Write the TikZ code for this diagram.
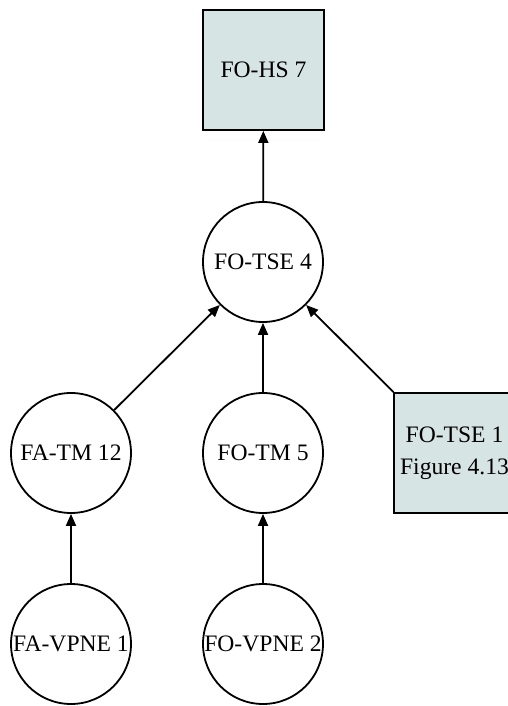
\documentclass[tikz,border=0pt]{standalone}
\usepackage{fontspec}
\setmainfont{Liberation Serif}
\usetikzlibrary{arrows.meta}
\definecolor{boxfill}{HTML}{D7E4E4}
\begin{document}
\begin{tikzpicture}[x=1pt,y=-1pt,
  every node/.style={font=\fontsize{23.6}{32}\selectfont, inner sep=0pt},
  goal/.style={draw, line width=1.8pt, circle, minimum size=120pt},
  ref/.style={draw, line width=1.8pt, rectangle, fill=boxfill, minimum width=121pt, minimum height=120pt, align=center},
  link/.style={line width=1.8pt, -{Triangle[length=12pt,width=10pt]}}]
\useasboundingbox (0,0) rectangle (508,706);
\clip (0,0) rectangle (508,706);
\node[ref]  (hs7)   at (263.5,70)  {FO-HS 7};
\node[goal] (tse4)  at (263,262)   {FO-TSE 4};
\node[goal] (tm12)  at (71,453)    {FA-TM 12};
\node[goal] (tm5)   at (263,453)   {FO-TM 5};
\node[ref]  (tse1)  at (454.5,453) {FO-TSE 1\\Figure 4.13};
\node[goal] (vpne1) at (71,644)    {FA-VPNE 1};
\node[goal] (vpne2) at (263,644)   {FO-VPNE 2};
\draw[link] (tse4) -- (hs7);
\draw[link] (tm12) -- (tse4);
\draw[link] (tm5) -- (tse4);
\draw[link] (tse1) -- (tse4);
\draw[link] (vpne1) -- (tm12);
\draw[link] (vpne2) -- (tm5);
\end{tikzpicture}
\end{document}
